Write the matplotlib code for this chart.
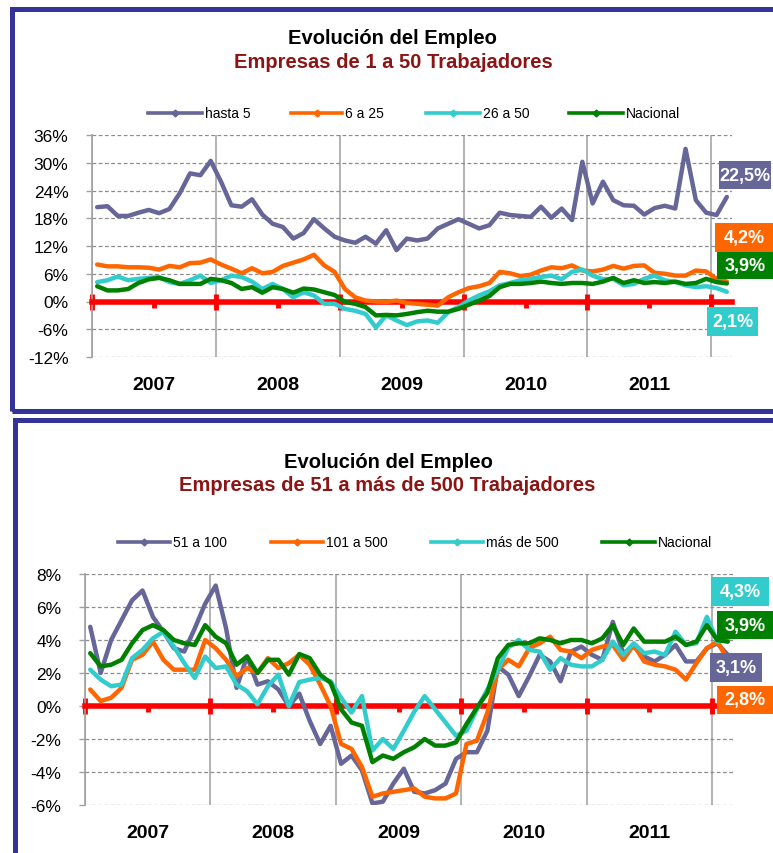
import matplotlib
matplotlib.use("Agg")
import matplotlib.pyplot as plt
from matplotlib.lines import Line2D
from matplotlib.patches import Rectangle
import matplotlib.transforms as mtransforms
import numpy as np

plt.rcParams['font.family'] = ['Liberation Sans', 'DejaVu Sans']

W, H = 773, 854

years = ["2007", "2008", "2009", "2010", "2011"]

# ---- Top panel data (monthly, Jan 2007 - Feb 2012) ----
top_title = "Evolución del Empleo"
top_subtitle = "Empresas de 1 a 50 Trabajadores"
top_names = ["hasta 5", "6 a 25", "26 a 50", "Nacional"]
hasta5 = [20.4, 20.6, 18.5, 18.5, 19.2, 19.8, 19.1, 20.0, 23.4, 27.7, 27.3, 30.4,
          25.9, 20.8, 20.5, 22.1, 18.8, 16.8, 16.1, 13.6, 14.8, 17.8, 15.8, 14.0,
          13.2, 12.7, 14.0, 12.5, 15.4, 11.1, 13.6, 13.2, 13.6, 15.8, 16.8, 17.8,
          16.8, 15.8, 16.5, 19.2, 18.7, 18.5, 18.3, 20.5, 18.1, 20.1, 17.6, 30.2,
          21.2, 25.9, 21.9, 20.8, 20.7, 18.8, 20.2, 20.7, 20.1, 33.0, 21.9, 19.2,
          18.7, 22.6]
de6a25 = [8.0, 7.6, 7.6, 7.4, 7.4, 7.3, 6.9, 7.7, 7.4, 8.3, 8.4, 9.1,
          8.0, 7.1, 6.1, 7.2, 6.1, 6.4, 7.7, 8.4, 9.1, 10.1, 7.8, 6.4,
          2.7, 0.9, 0.2, 0.0, -0.1, 0.2, -0.3, -0.5, -0.7, -0.9, 0.9, 2.0,
          2.9, 3.3, 4.0, 6.4, 6.1, 5.5, 5.8, 6.7, 7.4, 7.2, 7.8, 6.7,
          6.5, 6.9, 7.7, 7.1, 7.7, 7.8, 6.2, 6.0, 5.6, 5.6, 6.7, 6.5,
          4.9, 4.3]
de26a50 = [4.2, 4.6, 5.4, 4.6, 4.9, 5.1, 5.3, 4.2, 3.8, 4.6, 5.6, 4.0,
           4.6, 5.6, 5.3, 4.3, 2.7, 3.8, 2.7, 0.9, 2.0, 1.3, -0.5, -0.5,
           -1.6, -2.0, -2.7, -5.6, -3.0, -4.1, -5.1, -4.3, -4.1, -4.6, -2.3, -1.2,
           0.2, 1.3, 2.2, 3.5, 4.0, 4.6, 4.9, 5.3, 5.6, 4.8, 6.4, 6.9,
           5.6, 4.8, 4.9, 3.5, 3.8, 4.9, 5.6, 4.6, 4.2, 3.5, 3.1, 3.3,
           2.9, 2.1]
nacional_top = [3.3, 2.4, 2.4, 2.7, 4.0, 4.8, 5.1, 4.6, 3.8, 3.8, 3.8, 4.9,
                4.6, 4.0, 2.7, 3.1, 1.9, 3.1, 2.7, 1.9, 2.8, 2.6, 2.0, 1.4,
                -0.1, -0.5, -1.2, -3.0, -2.9, -3.0, -2.7, -2.3, -2.0, -2.2, -2.2, -1.6,
                -0.7, 0.2, 1.2, 3.1, 3.8, 3.8, 4.0, 4.3, 4.0, 3.8, 4.0, 4.0,
                3.8, 4.3, 5.1, 4.0, 4.6, 4.0, 4.2, 4.0, 4.3, 3.8, 4.0, 4.9,
                4.2, 3.9]
top_end_labels = ["22,5%", "4,2%", "3,9%", "2,1%"]
top_yticks = [-12, -6, 0, 6, 12, 18, 24, 30, 36]

# ---- Bottom panel data ----
bot_title = "Evolución del Empleo"
bot_subtitle = "Empresas de 51 a más de 500 Trabajadores"
bot_names = ["51 a 100", "101 a 500", "más de 500", "Nacional"]
de51a100 = [4.8, 2.0, 4.0, 5.2, 6.4, 7.0, 5.4, 4.5, 3.5, 3.3, 4.7, 6.2,
            7.3, 4.7, 1.1, 3.0, 1.3, 1.5, 1.0, 0.0, 0.75, -0.9, -2.3, -1.2,
            -3.5, -3.0, -3.9, -5.9, -5.8, -4.7, -3.8, -5.2, -5.3, -5.1, -4.7, -3.2,
            -2.8, -2.8, -1.5, 2.4, 1.9, 0.6, 1.8, 3.1, 2.7, 1.5, 3.3, 3.6,
            3.1, 2.8, 5.1, 3.2, 3.6, 3.0, 2.7, 3.1, 3.7, 2.7, 2.7, 3.5,
            3.8, 3.1]
de101a500 = [1.0, 0.3, 0.5, 1.1, 2.8, 3.1, 3.9, 2.8, 2.2, 2.2, 2.2, 4.0,
             3.5, 2.8, 1.8, 2.3, 2.0, 2.9, 2.3, 2.6, 3.1, 2.5, 1.3, 0.0,
             -2.3, -2.6, -3.7, -5.5, -5.3, -5.2, -5.1, -5.0, -5.5, -5.6, -5.6, -5.3,
             -2.3, -2.1, -0.4, 2.2, 2.8, 2.4, 3.5, 3.8, 4.2, 3.4, 3.3, 2.9,
             3.4, 3.6, 3.7, 2.8, 3.7, 2.7, 2.5, 2.4, 2.2, 1.6, 2.6, 3.5,
             3.9, 2.8]
mas500 = [2.2, 1.6, 1.2, 1.3, 2.9, 3.4, 4.1, 4.5, 3.6, 2.6, 1.7, 3.0,
          2.3, 2.4, 1.3, 0.9, 0.1, 1.2, 1.9, 0.0, 1.45, 1.6, 1.7, 1.5,
          0.5, -0.4, 0.6, -2.7, -2.0, -2.6, -1.5, -0.35, 0.6, -0.2, -1.0, -1.8,
          -1.5, -0.2, 1.0, 2.2, 3.55, 4.0, 3.4, 3.3, 2.2, 2.9, 2.5, 2.4,
          2.4, 2.8, 3.9, 3.1, 3.8, 3.2, 3.3, 3.1, 4.5, 3.7, 3.8, 5.4,
          3.9, 4.0]
nacional_bot = [3.2, 2.4, 2.5, 2.8, 3.8, 4.6, 4.9, 4.6, 4.0, 3.8, 3.7, 4.9,
                4.2, 3.8, 2.5, 3.0, 2.0, 2.8, 2.8, 1.9, 3.15, 2.9, 1.9, 1.4,
                -0.2, -1.0, -1.2, -3.4, -3.0, -3.2, -2.8, -2.5, -2.0, -2.4, -2.4, -2.2,
                -1.1, -0.1, 0.8, 2.9, 3.7, 3.8, 3.8, 4.1, 4.0, 3.8, 4.0, 4.0,
                3.8, 4.1, 4.9, 3.7, 4.7, 3.9, 3.9, 3.9, 4.2, 3.7, 3.9, 4.9,
                4.0, 3.9]
bot_end_labels = ["3,1%", "2,8%", "4,3%", "3,9%"]
bot_yticks = [-6, -4, -2, 0, 2, 4, 6, 8]

colors = ["#666699", "#FF6600", "#33CCCC", "#008000"]
TITLE_RED = "#8B1414"
FRAME = "#333399"

fig = plt.figure(figsize=(W / 100, H / 100), dpi=100)
fig.patch.set_facecolor("white")


def fx(x):
    return x / W


def fy(y):
    return 1 - y / H


# panel frames
fig.add_artist(Rectangle((fx(12), fy(412)), fx(800) - fx(12), fy(10) - fy(412),
                         transform=fig.transFigure, fill=False, edgecolor=FRAME,
                         linewidth=3.6, clip_on=False))
fig.add_artist(Rectangle((fx(15), fy(900)), fx(800) - fx(15), fy(421) - fy(900),
                         transform=fig.transFigure, fill=False, edgecolor=FRAME,
                         linewidth=3.6, clip_on=False))


def make_panel(rect, series, yticks, ylim, title, subtitle, title_y, sub_y, title_x,
               sub_x, legend_names, legend_y, legend_items, label_boxes, year_y):
    ax = fig.add_axes(rect)
    n = len(series[0])
    x = np.arange(n) + 0.5
    ax.set_xlim(0, 62)
    ax.set_ylim(*ylim)
    for s, c in zip(series, colors):
        ax.plot(x, s, color=c, lw=3.2, zorder=3, solid_joinstyle='round',
                solid_capstyle='round')
    # axes styling
    ax.spines['top'].set_visible(False)
    ax.spines['right'].set_visible(False)
    ax.spines['left'].set_color('#A0A0A0')
    ax.spines['left'].set_linewidth(1.2)
    ax.spines['bottom'].set_position(('data', 0))
    ax.spines['bottom'].set_color('#FF0000')
    ax.spines['bottom'].set_linewidth(4)
    ax.spines['bottom'].set_zorder(2.5)
    ax.set_xticks([0, 12, 24, 36, 48, 60])
    ax.set_xticks([6, 18, 30, 42, 54], minor=True)
    ax.tick_params(axis='x', which='major', direction='inout', length=11, width=3.5,
                   color='#FF0000', labelbottom=False)
    ax.tick_params(axis='x', which='minor', direction='out', length=4, width=3.5,
                   color='#FF0000', labelbottom=False)
    ax.set_yticks(yticks)
    ax.set_yticklabels([f"{v}%" for v in yticks])
    ax.tick_params(axis='y', direction='out', length=4, width=1, color='#A0A0A0',
                   pad=13, labelsize=12.5)
    ax.xaxis.grid(True, which='major', color='#A6A6A6', lw=1.2, linestyle='-')
    ax.yaxis.grid(True, color='#8C8C8C', lw=0.9, linestyle=(0, (3, 2)))
    ax.set_axisbelow(True)
    trans = mtransforms.blended_transform_factory(ax.transData, ax.transAxes)
    for i, yr in enumerate(years):
        ax.text(6 + 12 * i, year_y, yr, transform=trans, ha='center', va='center',
                fontsize=14, fontweight='bold')
    # titles
    fig.text(fx(title_x), fy(title_y), title, ha='center', va='center',
             fontsize=14.5, fontweight='bold', color='black')
    fig.text(fx(sub_x), fy(sub_y), subtitle, ha='center', va='center',
             fontsize=14.5, fontweight='bold', color=TITLE_RED)
    # legend
    for name, c, (x0, x1) in zip(legend_names, colors, legend_items):
        xm = (x0 + x1) / 2
        fig.add_artist(Line2D([fx(x0), fx(xm), fx(x1)], [fy(legend_y)] * 3,
                              transform=fig.transFigure, color=c, lw=2.6,
                              marker='D', markersize=3.5, markevery=[1]))
        fig.text(fx(x1 + 3), fy(legend_y), name, ha='left', va='center',
                 fontsize=10)
    # end-value labels
    for (txt, c, x0, y0, x1, y1) in label_boxes:
        fig.add_artist(Rectangle((fx(x0), fy(y1)), fx(x1) - fx(x0), fy(y0) - fy(y1),
                                 transform=fig.transFigure, facecolor=c,
                                 edgecolor='none', zorder=5))
        fig.text(fx((x0 + x1) / 2), fy((y0 + y1) / 2), txt, ha='center', va='center',
                 fontsize=13, fontweight='bold', color='white', zorder=6)
    return ax


make_panel([fx(92), fy(358), fx(732) - fx(92), fy(136) - fy(358)],
           [hasta5, de6a25, de26a50, nacional_top], top_yticks, (-12, 36),
           top_title, top_subtitle, 38, 63, 392, 393,
           top_names, 114, [(148, 202), (291, 342), (426, 480), (569, 623)],
           [(top_end_labels[0], colors[0], 719, 162, 771, 190),
            (top_end_labels[1], colors[1], 715, 224, 773, 253),
            (top_end_labels[2], colors[3], 717, 253, 773, 280),
            (top_end_labels[3], colors[2], 707, 308, 758, 337)],
           -0.126)

make_panel([fx(85), fy(806), fx(733) - fx(85), fy(575) - fy(806)],
           [de51a100, de101a500, mas500, nacional_bot], bot_yticks, (-6, 8),
           bot_title, bot_subtitle, 462, 486, 388, 387,
           bot_names, 543, [(118, 170), (271, 323), (431, 483), (602, 655)],
           [(bot_end_labels[2], colors[2], 711, 578, 769, 607),
            (bot_end_labels[3], colors[3], 717, 612, 773, 640),
            (bot_end_labels[0], colors[0], 710, 654, 762, 683),
            (bot_end_labels[1], colors[1], 717, 687, 773, 715)],
           -0.117)

fig.savefig("out.png", dpi=100, facecolor="white")
